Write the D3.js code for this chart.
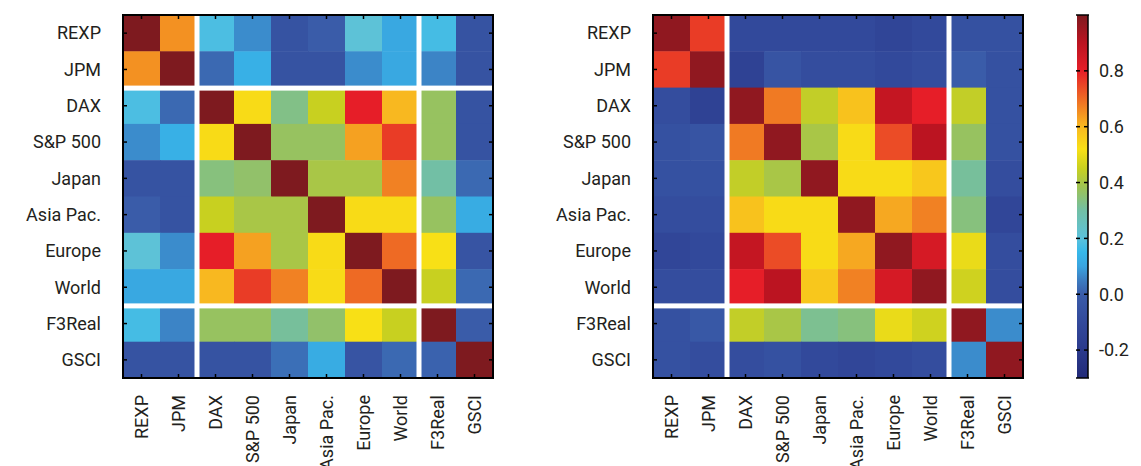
<!DOCTYPE html>
<html>
<head>
<meta charset="utf-8">
<script src="https://cdn.jsdelivr.net/npm/d3@7"></script>
<style>
  body { margin: 0; background: #fff; }
  text { font-family: Roboto, "Liberation Sans", sans-serif; fill: #231f20; }
</style>
</head>
<body>
<div class="chart"></div>
<script>
const labels = ["REXP", "JPM", "DAX", "S&P 500", "Japan", "Asia Pac.", "Europe", "World", "F3Real", "GSCI"]

// left matrix, rows top to bottom
const leftValues = [
  [1.0, 0.65, 0.18, 0.07, -0.05, 0.0, 0.21, 0.11, 0.17, -0.05],
  [0.65, 1.0, 0.02, 0.13, -0.05, -0.05, 0.07, 0.11, 0.06, -0.05],
  [0.18, 0.02, 1.0, 0.53, 0.33, 0.45, 0.8, 0.6, 0.37, -0.05],
  [0.07, 0.13, 0.53, 1.0, 0.37, 0.37, 0.63, 0.76, 0.37, -0.05],
  [-0.05, -0.05, 0.34, 0.36, 1.0, 0.4, 0.4, 0.67, 0.3, 0.02],
  [0.0, -0.05, 0.45, 0.4, 0.4, 1.0, 0.53, 0.53, 0.37, 0.12],
  [0.21, 0.07, 0.8, 0.63, 0.4, 0.53, 1.0, 0.7, 0.52, -0.04],
  [0.11, 0.11, 0.6, 0.76, 0.67, 0.53, 0.7, 1.0, 0.45, 0.02],
  [0.17, 0.06, 0.37, 0.37, 0.31, 0.36, 0.52, 0.45, 1.0, 0.0],
  [-0.05, -0.05, -0.05, -0.05, 0.03, 0.12, -0.04, 0.02, 0.01, 1.0]
]

// right matrix
const rightValues = [
  [0.97, 0.76, -0.1, -0.1, -0.1, -0.1, -0.13, -0.1, -0.06, -0.06],
  [0.76, 0.97, -0.15, -0.04, -0.08, -0.08, -0.1, -0.08, 0.0, -0.06],
  [-0.08, -0.15, 0.97, 0.68, 0.44, 0.58, 0.88, 0.8, 0.44, -0.06],
  [-0.06, -0.04, 0.68, 0.97, 0.4, 0.53, 0.74, 0.9, 0.37, -0.06],
  [-0.06, -0.06, 0.44, 0.4, 0.97, 0.53, 0.53, 0.57, 0.31, -0.08],
  [-0.08, -0.08, 0.58, 0.53, 0.53, 0.97, 0.62, 0.67, 0.34, -0.12],
  [-0.12, -0.1, 0.88, 0.74, 0.53, 0.62, 0.97, 0.84, 0.5, -0.08],
  [-0.08, -0.08, 0.8, 0.9, 0.57, 0.67, 0.84, 0.97, 0.46, -0.08],
  [-0.06, -0.02, 0.44, 0.4, 0.32, 0.34, 0.5, 0.46, 0.97, 0.07],
  [-0.06, -0.08, -0.08, -0.06, -0.1, -0.12, -0.1, -0.08, 0.07, 0.97]
]

const colorTicks = [-0.2, 0, 0.2, 0.4, 0.6, 0.8]
const colorDomain = [-0.3, 1.0]

// jet-like map
const cmapStops = [-0.3, -0.2, -0.1, 0.0, 0.05, 0.1, 0.15, 0.2, 0.3, 0.38, 0.45, 0.52, 0.6, 0.7, 0.8, 0.9, 1.0]
const cmapColors = ["#222a78", "#2b3a8c", "#32499b", "#3a5ca9", "#3c7cc0", "#3aa4df", "#36b8ea", "#5bc2dc",
  "#72bfa5", "#9cc256", "#c8d020", "#f8e016", "#f8b820", "#ee6a24", "#e61e28", "#bb1421", "#7e1a1f"]

const color = d3.scaleLinear().domain(cmapStops).range(cmapColors).clamp(true)

const W = 1141, H = 466
const svg = d3.select(".chart").append("svg")
  .attr("width", W)
  .attr("height", H)

const plotTop = 15, plotW = 370, plotH = 363, tickLen = 4, fontSize = "18px"

function drawHeat(values, x0, hLines, vLines) {
  const x = d3.scaleBand().domain(labels).range([x0, x0 + plotW])
  const y = d3.scaleBand().domain(labels).range([plotTop, plotTop + plotH])
  const g = svg.append("g")

  const cells = []
  values.forEach((row, i) => row.forEach((v, j) => cells.push({ r: labels[i], c: labels[j], v: v })))

  g.selectAll(".cell")
    .data(cells)
    .enter().append("rect")
    .attr("class", "cell")
    .attr("x", d => x(d.c))
    .attr("y", d => y(d.r))
    .attr("width", x.bandwidth() + 0.5)
    .attr("height", y.bandwidth() + 0.5)
    .style("fill", d => color(d.v))

  // white separators
  hLines.forEach(k => {
    g.append("rect")
      .attr("x", x0).attr("y", y(labels[k]) - 2)
      .attr("width", plotW + 2).attr("height", 5)
      .style("fill", "#fff")
  })
  vLines.forEach(k => {
    g.append("rect")
      .attr("x", x(labels[k]) - 2.5).attr("y", plotTop)
      .attr("width", 5).attr("height", plotH)
      .style("fill", "#fff")
  })

  // inward ticks on all sides
  const ticks = g.append("g").attr("stroke", "#000").attr("stroke-width", 1.5)
  labels.forEach(l => {
    const cx = x(l) + x.bandwidth() / 2, cy = y(l) + y.bandwidth() / 2
    ticks.append("line").attr("x1", cx).attr("x2", cx).attr("y1", plotTop).attr("y2", plotTop + tickLen)
    ticks.append("line").attr("x1", cx).attr("x2", cx).attr("y1", plotTop + plotH).attr("y2", plotTop + plotH - tickLen)
    ticks.append("line").attr("y1", cy).attr("y2", cy).attr("x1", x0).attr("x2", x0 + tickLen)
    ticks.append("line").attr("y1", cy).attr("y2", cy).attr("x1", x0 + plotW).attr("x2", x0 + plotW - tickLen)
  })

  g.append("rect")
    .attr("x", x0).attr("y", plotTop)
    .attr("width", plotW).attr("height", plotH)
    .style("fill", "none").style("stroke", "#000").style("stroke-width", 2)

  g.selectAll(".ylab")
    .data(labels)
    .enter().append("text")
    .attr("class", "ylab")
    .attr("x", x0 - 22)
    .attr("y", d => y(d) + y.bandwidth() / 2)
    .attr("dy", "0.35em")
    .style("text-anchor", "end")
    .style("font-size", fontSize)
    .text(d => d)

  g.selectAll(".xlab")
    .data(labels)
    .enter().append("text")
    .attr("class", "xlab")
    .attr("transform", d => "translate(" + (x(d) + x.bandwidth() / 2) + "," + (plotTop + plotH + 17) + ") rotate(-90)")
    .attr("dy", "0.35em")
    .style("text-anchor", "end")
    .style("font-size", fontSize)
    .text(d => d)
}

drawHeat(leftValues, 123, [2, 8], [2, 8])
drawHeat(rightValues, 653, [8], [2, 8])

// colour bar
const cbX = 1077, cbW = 11
const cbScale = d3.scaleLinear().domain(colorDomain).range([plotTop + plotH, plotTop])

const defs = svg.append("defs")
const grad = defs.append("linearGradient")
  .attr("id", "cbgrad")
  .attr("x1", 0).attr("x2", 0).attr("y1", 1).attr("y2", 0)
grad.selectAll("stop")
  .data(cmapStops)
  .enter().append("stop")
  .attr("offset", d => (d - colorDomain[0]) / (colorDomain[1] - colorDomain[0]))
  .attr("stop-color", (d, i) => cmapColors[i])

svg.append("rect")
  .attr("x", cbX).attr("y", plotTop)
  .attr("width", cbW).attr("height", plotH)
  .style("fill", "url(#cbgrad)")

const cb = svg.append("g").attr("stroke", "#000").attr("stroke-width", 1.5)
cb.append("line").attr("x1", cbX + cbW).attr("x2", cbX + cbW).attr("y1", plotTop).attr("y2", plotTop + plotH)
cb.append("line").attr("x1", cbX - 1).attr("x2", cbX + cbW + 1).attr("y1", plotTop).attr("y2", plotTop)
cb.append("line").attr("x1", cbX - 1).attr("x2", cbX + cbW + 1).attr("y1", plotTop + plotH).attr("y2", plotTop + plotH)
colorTicks.forEach(t => {
  cb.append("line").attr("x1", cbX - 1).attr("x2", cbX + 3).attr("y1", cbScale(t)).attr("y2", cbScale(t))
  cb.append("line").attr("x1", cbX + cbW - 4).attr("x2", cbX + cbW).attr("y1", cbScale(t)).attr("y2", cbScale(t))
})

svg.selectAll(".cblab")
  .data(colorTicks)
  .enter().append("text")
  .attr("class", "cblab")
  .attr("x", 1099)
  .attr("y", d => cbScale(d))
  .attr("dy", "0.35em")
  .style("font-size", fontSize)
  .text(d => d.toFixed(1))
</script>
</body>
</html>
